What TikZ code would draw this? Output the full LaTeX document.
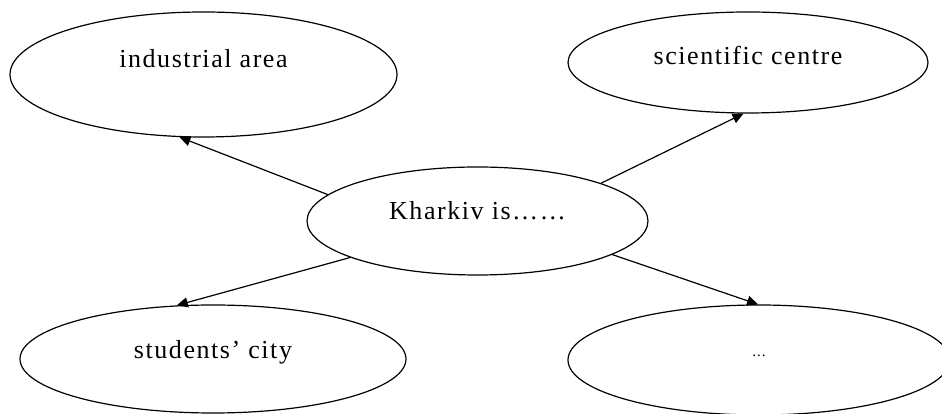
\documentclass[tikz,border=0pt]{standalone}
\usepackage{fontspec}
\setmainfont{Liberation Serif}[LetterSpace=6]
\usetikzlibrary{shapes.geometric,arrows.meta}

\begin{document}
\begin{tikzpicture}[x=1pt,y=1pt,line width=1.2pt,
  bubble/.style={draw, ellipse, inner sep=0pt, text height=0pt, text depth=0pt,
    font=\fontsize{26}{30}\selectfont},
  link/.style={-{Triangle[length=11pt,width=10pt]}}]
  \useasboundingbox (0,0) rectangle (942,414);

  \node[bubble, minimum width=387pt, minimum height=125pt, text depth=13pt] (ind) at (203.5,339.5) {industrial area};
  \node[bubble, minimum width=360pt, minimum height=101pt, text height=5pt] (sci) at (748,351.5) {scientific centre};
  \node[bubble, minimum width=341pt, minimum height=108pt, text depth=2pt] (kh) at (477.5,193) {Kharkiv is……};
  \node[bubble, minimum width=386pt, minimum height=108pt] (stu) at (213,55) {students’ city};
  \node[bubble, minimum width=382pt, minimum height=110pt, text depth=6pt,
    font=\fontsize{15}{18}\selectfont] (more) at (759,54) {...};

  \draw[link] (kh.170) -- (ind.249);
  \draw[link] (kh.17) -- (sci.265);
  \draw[link] (kh.196) -- (stu.124);
  \draw[link] (kh.346) -- (more.91);
\end{tikzpicture}
\end{document}
